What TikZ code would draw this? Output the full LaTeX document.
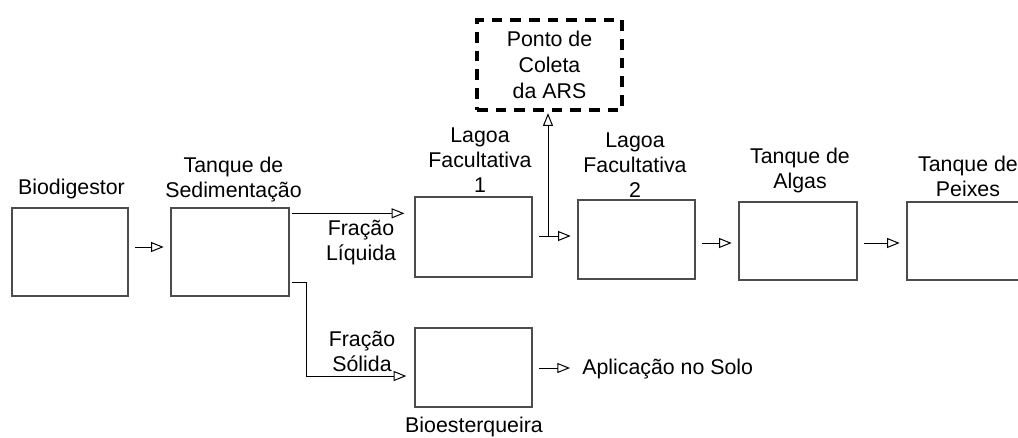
\documentclass[tikz,border=0pt]{standalone}
\usepackage{fontspec}
\setmainfont{Liberation Sans}
\usetikzlibrary{arrows.meta,calc}

\begin{document}
\begin{tikzpicture}
[x=0.75pt,y=-0.75pt,
  tankDecorate/.style={shape=rectangle,draw=black!70,line width=1pt,inner sep=0pt},%
  pointDecorate/.style={shape=rectangle,draw,line width=2.4pt,dash pattern=on 8pt off 6pt,%
    align=center,font=\fontsize{16}{19.5}\selectfont,inner sep=0pt},%
  labelDecorate/.style={align=center,font=\fontsize{16}{18.75}\selectfont,inner sep=0pt},%
  flowDecorate/.style={-{Triangle[open,length=9.5pt,width=7.5pt]},line width=0.75pt,%
    shorten <=5pt,shorten >=5pt}]
\clip (0,0) rectangle (1018,437);
%% tanks
\foreach \nodename/\x/\y/\w/\h in {
  bio/70/252/116/88, sed/230/252/118/88, lagA/473.5/237/117/80,
  lagB/636.5/239.5/117/79, alg/798/241/118/78, pei/966/241/118/78,
  est/473.5/367.5/117/79}
{
  \node (\nodename) at (\x,\y) [tankDecorate,minimum width=\w*0.75pt,minimum height=\h*0.75pt] {};
}
\node (ponto) at (549.5,65) [pointDecorate,minimum width=145*0.75pt,minimum height=90*0.75pt]
  {Ponto de\\Coleta\\da ARS};
%% labels
\foreach \labelname/\x/\y/\words in {
  bioL/71.5/189/Biodigestor, sedL/233.5/179.5/{Tanque de\\Sedimentação},
  lagAL/480/160/{Lagoa\\Facultativa\\1}, lagBL/635/165/{Lagoa\\Facultativa\\2},
  algL/800/170.5/{Tanque de\\Algas}, peiL/968/176/{Tanque de\\Peixes},
  liqL/361/243/{Fração\\Líquida}, solL/362/351.5/{Fração\\Sólida},
  estL/474/427/Bioesterqueira}
{
  \node (\labelname) at (\x,\y) [labelDecorate] {\words};
}
\node (apl) at (582,369) [labelDecorate,anchor=west] {Aplicação no Solo};
%% flows
\foreach \startnode/\endnode/\y in {bio/sed/247, lagA/lagB/236, lagB/alg/243, alg/pei/243}
{
  \draw[flowDecorate] (\startnode.east |- 0,\y) -- (\endnode.west |- 0,\y);
}
\coordinate (tap) at (548,236);
\draw[flowDecorate,shorten <=0pt,shorten >=1.2pt] (tap) -- (tap |- ponto.south);
\coordinate (liq) at ($(sed.north east)+(0,6)$);
\draw[flowDecorate,shorten <=1.5pt,shorten >=7.5pt] (liq) -- (liq -| lagA.west);
\coordinate (sol) at ($(sed.south east)+(0,-14)$);
\draw[flowDecorate,shorten <=1.5pt,shorten >=6pt] (sol) -- ++(17,0) |- (est.west |- 0,376);
\draw[flowDecorate,shorten >=9pt] (est.east |- 0,368) -- (apl.west |- 0,368);
\end{tikzpicture}
\end{document}
